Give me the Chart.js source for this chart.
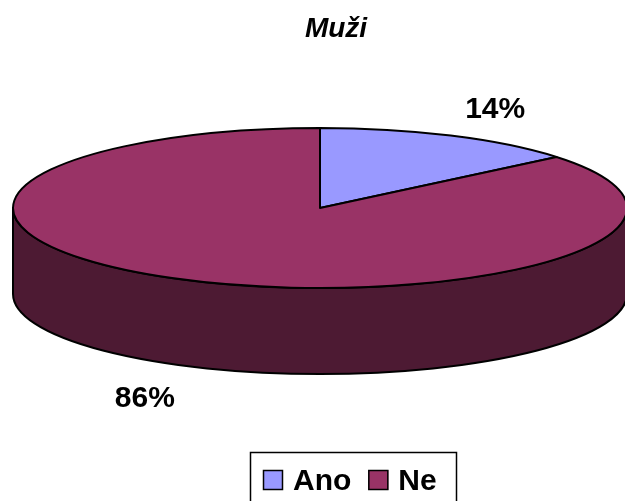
<!DOCTYPE html>
<html>
<head>
<meta charset="utf-8">
<script src="https://cdn.jsdelivr.net/npm/chart.js@4"></script>
<style>
  html, body { margin: 0; padding: 0; background: #ffffff; }
  #wrap { width: 625px; height: 501px; position: relative; }
</style>
</head>
<body>
<div id="wrap"><canvas id="c" width="625" height="501"></canvas></div>
<script>
// Survey answers for men
const chartTitle = 'Muži';
const categories = ['Ano', 'Ne'];
const shares = [14, 86];            // percent
const topColors = ['#9999FF', '#993366'];
const sideColors = ['#4D4D80', '#4D1A33'];

const FONT = '"Liberation Sans", Arial, Helvetica, sans-serif';

// Shape of the tilted disc relative to the pie radius Chart.js computes
const STRETCH_X = 307 / 150;
const SQUASH_Y = 80 / 150;
const DEPTH = 86 / 150;

function frontSpan(a0, a1) {
  // part of [a0, a1] lying on the near (lower) half of the ellipse
  const spans = [];
  for (let k = -1; k <= 1; k++) {
    const lo = Math.max(a0, 2 * Math.PI * k);
    const hi = Math.min(a1, 2 * Math.PI * k + Math.PI);
    if (hi > lo) spans.push([lo, hi]);
  }
  return spans;
}

const tiltedPie = {
  id: 'tiltedPie',
  beforeDatasetsDraw(chart) {
    const ctx = chart.ctx;
    const arcs = chart.getDatasetMeta(0).data;
    if (!arcs.length) return false;
    const R = arcs[0].outerRadius;
    const cx = arcs[0].x, cy = arcs[0].y;
    const rx = R * STRETCH_X, ry = R * SQUASH_Y, depth = R * DEPTH;

    ctx.save();
    ctx.lineWidth = 2;
    ctx.strokeStyle = '#000000';
    ctx.lineJoin = 'round';

    // side walls
    arcs.forEach((arc, i) => {
      frontSpan(arc.startAngle, arc.endAngle).forEach(([a0, a1]) => {
        ctx.beginPath();
        ctx.ellipse(cx, cy, rx, ry, 0, a0, a1, false);
        ctx.ellipse(cx, cy + depth, rx, ry, 0, a1, a0, true);
        ctx.closePath();
        ctx.fillStyle = sideColors[i];
        ctx.fill();
        ctx.stroke();
      });
    });

    // top faces
    arcs.forEach((arc, i) => {
      ctx.beginPath();
      ctx.moveTo(cx, cy);
      ctx.ellipse(cx, cy, rx, ry, 0, arc.startAngle, arc.endAngle, false);
      ctx.closePath();
      ctx.fillStyle = topColors[i];
      ctx.fill();
      ctx.stroke();
    });

    // percentage labels outside the disc
    ctx.fillStyle = '#000000';
    ctx.font = 'bold 30px ' + FONT;
    ctx.textAlign = 'center';
    ctx.textBaseline = 'middle';
    arcs.forEach((arc, i) => {
      const mid = (arc.startAngle + arc.endAngle) / 2;
      const s = Math.sin(mid);
      const x = cx + rx * 1.34 * Math.cos(mid);
      const y = cy + ry * 1.4 * s + (s > 0 ? depth : 0) + 3;
      ctx.fillText(shares[i] + '%', x, y);
    });
    ctx.restore();
    return false;
  },
  afterDraw(chart) {
    const ctx = chart.ctx;
    ctx.save();
    // title
    ctx.fillStyle = '#000000';
    ctx.font = 'italic bold 28px ' + FONT;
    ctx.textAlign = 'center';
    ctx.textBaseline = 'alphabetic';
    ctx.fillText(chartTitle, 336, 37);

    // legend
    ctx.font = 'bold 30px ' + FONT;
    ctx.textAlign = 'left';
    ctx.lineWidth = 1.5;
    ctx.strokeStyle = '#000000';
    ctx.strokeRect(250.5, 452.5, 206, 70);
    let x = 263;
    categories.forEach((name, i) => {
      ctx.fillStyle = topColors[i];
      ctx.fillRect(x, 470, 20, 20);
      ctx.strokeRect(x + 0.5, 470.5, 19, 19);
      ctx.fillStyle = '#000000';
      ctx.fillText(name, x + 30, 490);
      x += 30 + ctx.measureText(name).width + 17;
    });
    ctx.restore();
  }
};

new Chart(document.getElementById('c'), {
  type: 'pie',
  data: {
    labels: categories,
    datasets: [{
      data: shares,
      backgroundColor: topColors,
      borderWidth: 0
    }]
  },
  options: {
    responsive: false,
    devicePixelRatio: 1,
    animation: false,
    layout: { padding: { left: 170, right: 155, top: 58, bottom: 143 } },
    plugins: {
      legend: { display: false },
      title: { display: false },
      tooltip: { enabled: false }
    }
  },
  plugins: [tiltedPie]
});
</script>
</body>
</html>
